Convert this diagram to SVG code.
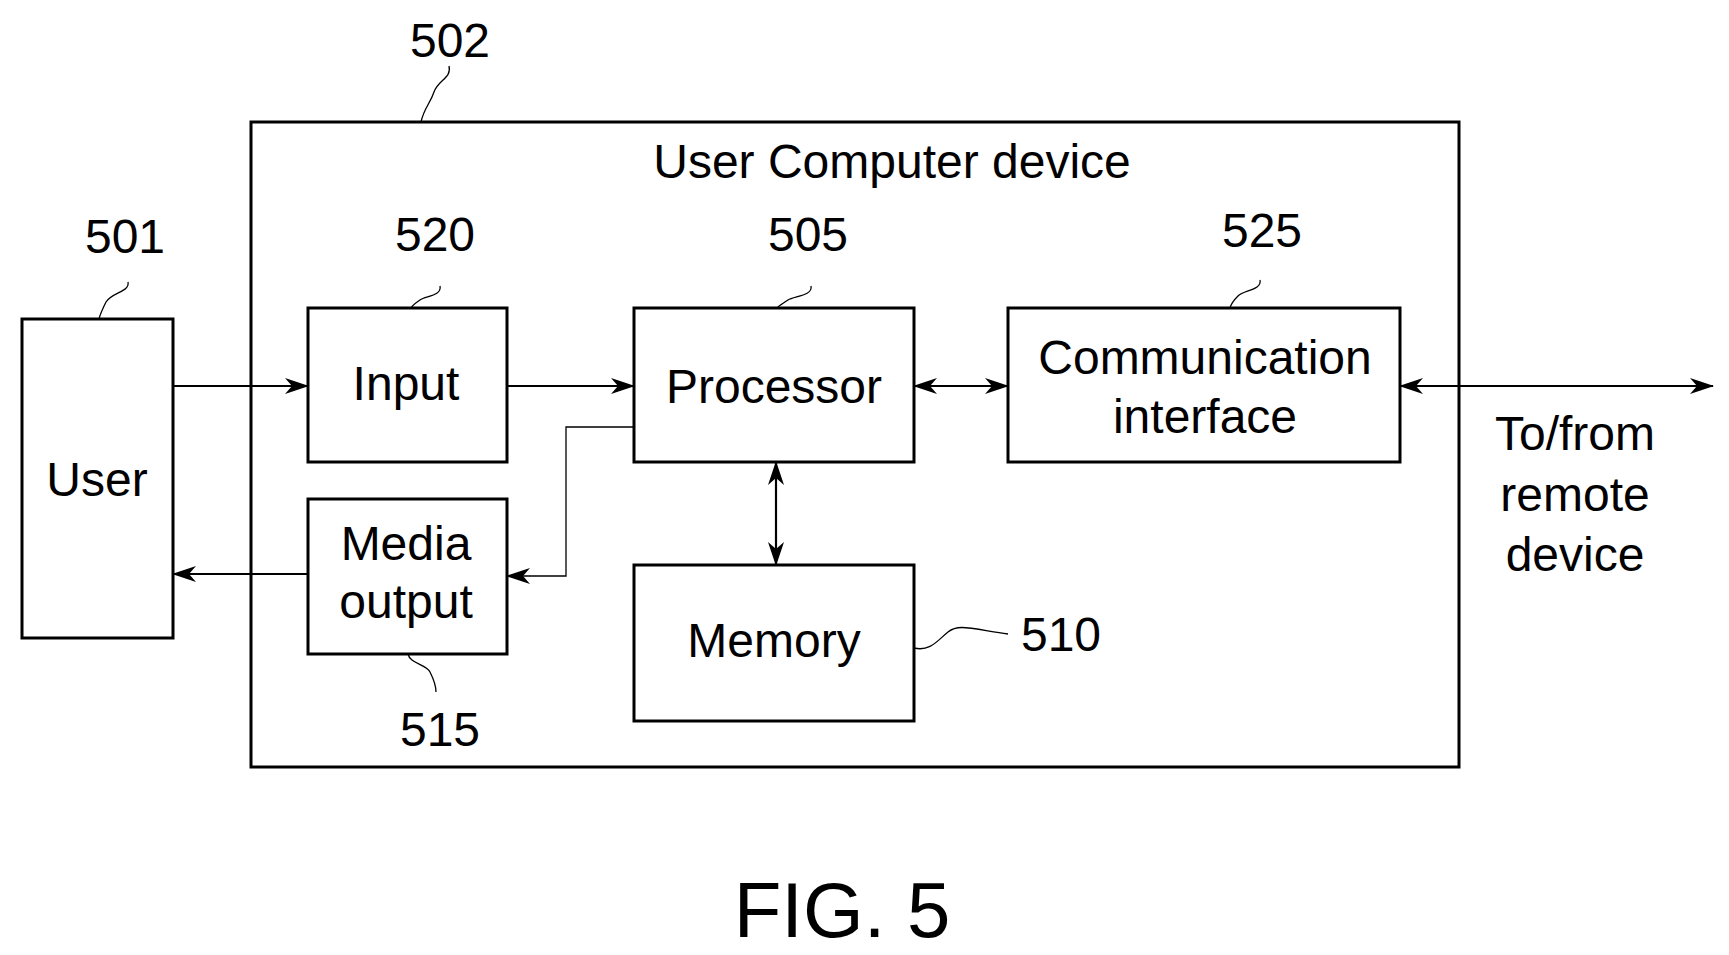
<svg xmlns="http://www.w3.org/2000/svg" width="1729" height="955" viewBox="0 0 1729 955">
<defs>
<marker id="a" viewBox="0 0 24 16" refX="23" refY="8" markerWidth="24" markerHeight="16" markerUnits="userSpaceOnUse" orient="auto-start-reverse"><path d="M0,0 L24,8 L0,16 L7,8 Z" fill="#000"/></marker>
</defs>
<style>
.b{fill:#fff;stroke:#000;stroke-width:3}
.t{font-family:"Liberation Sans",Arial,sans-serif;font-size:48px;text-anchor:middle;fill:#000}
.l{fill:none;stroke:#000;stroke-width:2.2}
.q{fill:none;stroke:#000;stroke-width:1.3}
</style>
<rect width="1729" height="955" fill="#fff"/>
<g id="device502"><rect class="b" x="251" y="122" width="1208" height="645"/><text class="t" x="892" y="178">User Computer device</text></g>
<g id="user501"><rect class="b" x="22" y="319" width="151" height="319"/><text class="t" x="97" y="496">User</text></g>
<g id="input520"><rect class="b" x="308" y="308" width="199" height="154"/><text class="t" x="406" y="400">Input</text></g>
<g id="processor505"><rect class="b" x="634" y="308" width="280" height="154"/><text class="t" x="774" y="403">Processor</text></g>
<g id="comm525"><rect class="b" x="1008" y="308" width="392" height="154"/><text class="t" x="1205" y="374">Communication</text><text class="t" x="1205" y="433">interface</text></g>
<g id="media515"><rect class="b" x="308" y="499" width="199" height="155"/><text class="t" x="406" y="560">Media</text><text class="t" x="406" y="618">output</text></g>
<g id="memory510"><rect class="b" x="634" y="565" width="280" height="156"/><text class="t" x="774" y="657">Memory</text></g>
<g id="connectors">
<line class="l" x1="173" y1="386" x2="308" y2="386" marker-end="url(#a)"/>
<line class="l" x1="507" y1="386" x2="634" y2="386" marker-end="url(#a)"/>
<line class="l" x1="914" y1="386" x2="1008" y2="386" marker-start="url(#a)" marker-end="url(#a)"/>
<line class="l" x1="1400" y1="386" x2="1713" y2="386" marker-start="url(#a)" marker-end="url(#a)"/>
<line class="l" x1="776" y1="462" x2="776" y2="565" marker-start="url(#a)" marker-end="url(#a)"/>
<polyline class="q" points="634,427 566,427 566,576 507,576" marker-end="url(#a)"/>
<line class="l" x1="308" y1="574" x2="173" y2="574" marker-end="url(#a)"/>
<path class="q" d="M449,66 C452,78 438,80 434,92 C430,104 424,108 421,122"/>
<path class="q" d="M128,282 C130,292 112,292 106,302 C102,310 100,315 99,319"/>
<path class="q" d="M440,286 C442,296 426,296 420,300 C414,304 412,306 411,308"/>
<path class="q" d="M811,286 C813,296 794,296 788,300 C782,304 778,306 777,308"/>
<path class="q" d="M1260,280 C1262,290 1244,290 1238,296 C1234,300 1231,304 1230,308"/>
<path class="q" d="M914,648 C930,652 938,640 948,632 C958,624 968,628 1008,634"/>
<path class="q" d="M408,654 C410,664 426,664 430,672 C434,680 436,685 436,692"/>
</g>
<g id="labels">
<text class="t" x="450" y="57">502</text>
<text class="t" x="125" y="253">501</text>
<text class="t" x="435" y="251">520</text>
<text class="t" x="808" y="251">505</text>
<text class="t" x="1262" y="247">525</text>
<text class="t" x="1061" y="651">510</text>
<text class="t" x="440" y="746">515</text>
<text class="t" x="1575" y="450">To/from</text>
<text class="t" x="1575" y="511">remote</text>
<text class="t" x="1575" y="571">device</text>
<text class="t" x="842" y="937" style="font-size:78px">FIG. 5</text>
</g>
</svg>
